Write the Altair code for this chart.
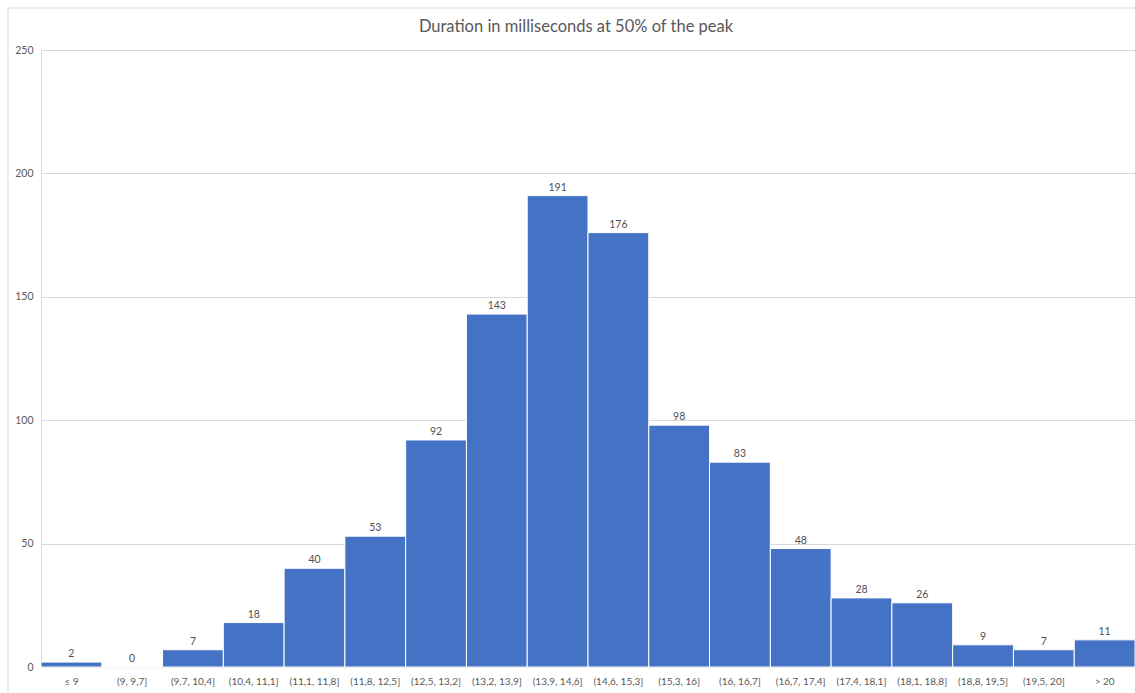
import altair as alt
import pandas as pd

categories = ["≤ 9", "(9, 9,7]", "(9,7, 10,4]", "(10,4, 11,1]", "(11,1, 11,8]", "(11,8, 12,5]",
              "(12,5, 13,2]", "(13,2, 13,9]", "(13,9, 14,6]", "(14,6, 15,3]", "(15,3, 16]",
              "(16, 16,7]", "(16,7, 17,4]", "(17,4, 18,1]", "(18,1, 18,8]", "(18,8, 19,5]",
              "(19,5, 20]", "> 20"]
counts = [2, 0, 7, 18, 40, 53, 92, 143, 191, 176, 98, 83, 48, 28, 26, 9, 7, 11]
y_ticks = [0, 50, 100, 150, 200, 250]
title_text = "Duration in milliseconds at 50% of the peak"

df = pd.DataFrame({"bin": categories, "count": counts})
FONT = "Lato"
TXT = "#595959"

x_enc = alt.X("bin:N", sort=categories, title=None,
              scale=alt.Scale(paddingInner=0, paddingOuter=0),
              axis=alt.Axis(labelAngle=0, domain=False, ticks=False, labelPadding=9,
                            labelFont=FONT, labelFontSize=10, labelColor=TXT))
y_enc = alt.Y("count:Q", title=None,
              scale=alt.Scale(domain=[0, 250], nice=False),
              axis=alt.Axis(values=y_ticks, grid=True, gridColor="#d9d9d9", domain=True,
                            domainColor="#d9d9d9", ticks=False, labelPadding=8,
                            labelFont=FONT, labelFontSize=10.5, labelColor=TXT))

base = alt.Chart(df)
bars = base.mark_bar(color="#4472C4", stroke="white", strokeWidth=1).encode(x=x_enc, y=y_enc)
labels = base.mark_text(baseline="bottom", dy=-3, font=FONT, fontSize=10.5, color="#505050").encode(
    x=alt.X("bin:N", sort=categories), y="count:Q", text="count:Q")

title = alt.Chart(pd.DataFrame({"t": [title_text]})).mark_text(
    font=FONT, fontSize=16.5, color=TXT, baseline="middle", align="center"
).encode(x=alt.value(535), y=alt.value(-23), text="t:N")

border_top = alt.Chart(pd.DataFrame({"a": [0]})).mark_rule(color="#d9d9d9", strokeWidth=1).encode(
    x=alt.value(-33), x2=alt.value(1100), y=alt.value(-42))
border_left = alt.Chart(pd.DataFrame({"a": [0]})).mark_rule(color="#d9d9d9", strokeWidth=1).encode(
    x=alt.value(-33), y=alt.value(-42), y2=alt.value(660))

chart = alt.layer(bars, labels, title, border_top, border_left).properties(
    width=1094, height=617,
    autosize=alt.AutoSizeParams(type="none"),
    padding={"left": 41, "top": 50, "right": 0, "bottom": 26},
).configure_view(stroke=None).configure(background="white")

chart.save("out.html", embed_options={"renderer": "svg", "actions": False})
